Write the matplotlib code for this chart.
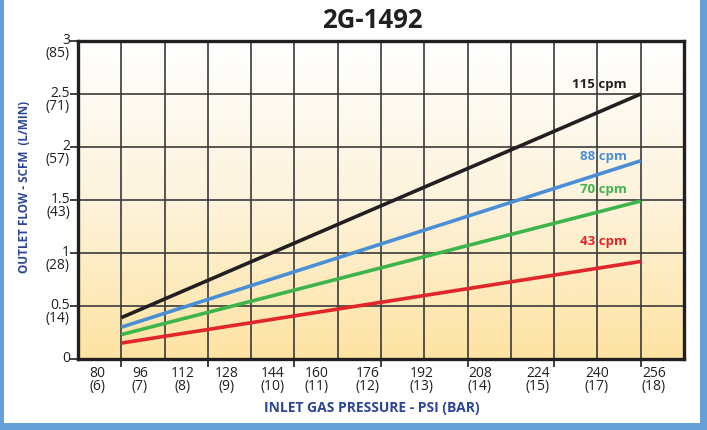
import numpy as np
import matplotlib
matplotlib.use("Agg")
import matplotlib.pyplot as plt
from matplotlib.patches import Rectangle
from matplotlib.colors import LinearSegmentedColormap

plt.rcParams['font.family'] = ['Open Sans', 'DejaVu Sans']

# ---- data ----
pressure_psi = [96, 256]
flow_115 = [0.39, 2.50]
flow_88 = [0.30, 1.87]
flow_70 = [0.23, 1.49]
flow_43 = [0.15, 0.92]
series_labels = ["115 cpm", "88 cpm", "70 cpm", "43 cpm"]
x_tick_psi = ["80", "96", "112", "128", "144", "160", "176", "192", "208", "224", "240", "256"]
x_tick_bar = ["(6)", "(7)", "(8)", "(9)", "(10)", "(11)", "(12)", "(13)", "(14)", "(15)", "(17)", "(18)"]
y_ticks = [0, 0.5, 1, 1.5, 2, 2.5, 3]
y_tick_main = ["0", "0.5", "1", "1.5", "2", "2.5", "3"]
y_tick_lpm = ["", "(14)", "(28)", "(43)", "(57)", "(71)", "(85)"]

W, H = 707, 431
fig = plt.figure(figsize=(W / 100, H / 100), dpi=100)
fig.patch.set_facecolor('#64a0d6')
fig.patches.append(Rectangle((4 / W, 1 - 424 / H), 696 / W, 424 / H,
                             transform=fig.transFigure, facecolor='white',
                             edgecolor='none', zorder=0))

L, R, T, B = 78, 684, 42, 360
ax = fig.add_axes([L / W, 1 - B / H, (R - L) / W, (B - T) / H])
ax.set_zorder(2)

col = 160 / 12.0
xmin, xmax = 96 - col, 256 + col
ax.set_xlim(xmin, xmax)
ax.set_ylim(0, 3)

# background gradient
grad = np.linspace(0, 1, 256).reshape(-1, 1)
cmap = LinearSegmentedColormap.from_list('g', ['#fde3a2', '#fdf3dc', '#ffffff'])
ax.imshow(grad, aspect='auto', cmap=cmap, origin='lower',
          extent=[xmin, xmax, 0, 3], zorder=0)

# grid
ax.set_xticks(np.arange(96, 256.1, 2 * col))
ax.set_xticks(np.arange(xmin, xmax + 0.01, col), minor=True)
ax.set_yticks(y_ticks)
ax.set_xticklabels([])
ax.set_yticklabels([])
ax.grid(True, which='both', color='#3a3a3a', linewidth=1.2, zorder=1)
ax.set_axisbelow(True)
ax.tick_params(axis='both', which='major', length=6, width=1.2, color='#231f20', direction='out')
ax.tick_params(axis='x', which='minor', length=0)
for s in ax.spines.values():
    s.set_linewidth(2.4)
    s.set_color('#231f20')
    s.set_zorder(5)

colors = ['#231f20', '#4a8fd6', '#3db54a', '#e0262a']
series = [flow_115, flow_88, flow_70, flow_43]
for vals, c in zip(series, colors):
    ax.plot(pressure_psi, vals, color=c, linewidth=2.6, solid_capstyle='butt', zorder=3)

# series labels
lab_y = [85, 157, 190, 242]
for lab, c, py in zip(series_labels, colors, lab_y):
    ax.text((627 - L) / (R - L), (B - py) / (B - T), lab, transform=ax.transAxes,
            ha='right', va='center', fontsize=9.5, fontweight='bold', color=c, zorder=4)

# x tick labels
x_lab_px = [97, 140, 183, 227, 273, 317, 368, 422, 480, 538, 597, 654]
for px, a, b in zip(x_lab_px, x_tick_psi, x_tick_bar):
    fig.text(px / W, 1 - 380 / H, a + "\n" + b, ha='center', va='center',
             multialignment='center', linespacing=0.88, fontsize=10, color='#231f20')

# y tick labels
for v, a, b in zip(y_ticks, y_tick_main, y_tick_lpm):
    py = B - v * (B - T) / 3
    if b:
        fig.text(70 / W, 1 - (py + 5) / H, a + "\n" + b, ha='right', va='center',
                 multialignment='right', linespacing=0.88, fontsize=10, color='#231f20')
    else:
        fig.text(70 / W, 1 - (py - 1) / H, a, ha='right', va='center', fontsize=10, color='#231f20')

fig.text(372 / W, 1 - 20 / H, "2G-1492", ha='center', va='center',
         fontsize=18.5, fontweight='bold', color='#231f20')
fig.text(372 / W, 1 - 408 / H, "INLET GAS PRESSURE - PSI (BAR)", ha='center', va='center',
         fontsize=10, fontweight='bold', color='#2c4596')
fig.text(25 / W, 1 - 187 / H, "OUTLET FLOW - SCFM  (L/MIN)", ha='center', va='center',
         rotation=90, fontsize=8.5, fontweight='bold', color='#2c4596')

fig.savefig('out.png', dpi=100)
